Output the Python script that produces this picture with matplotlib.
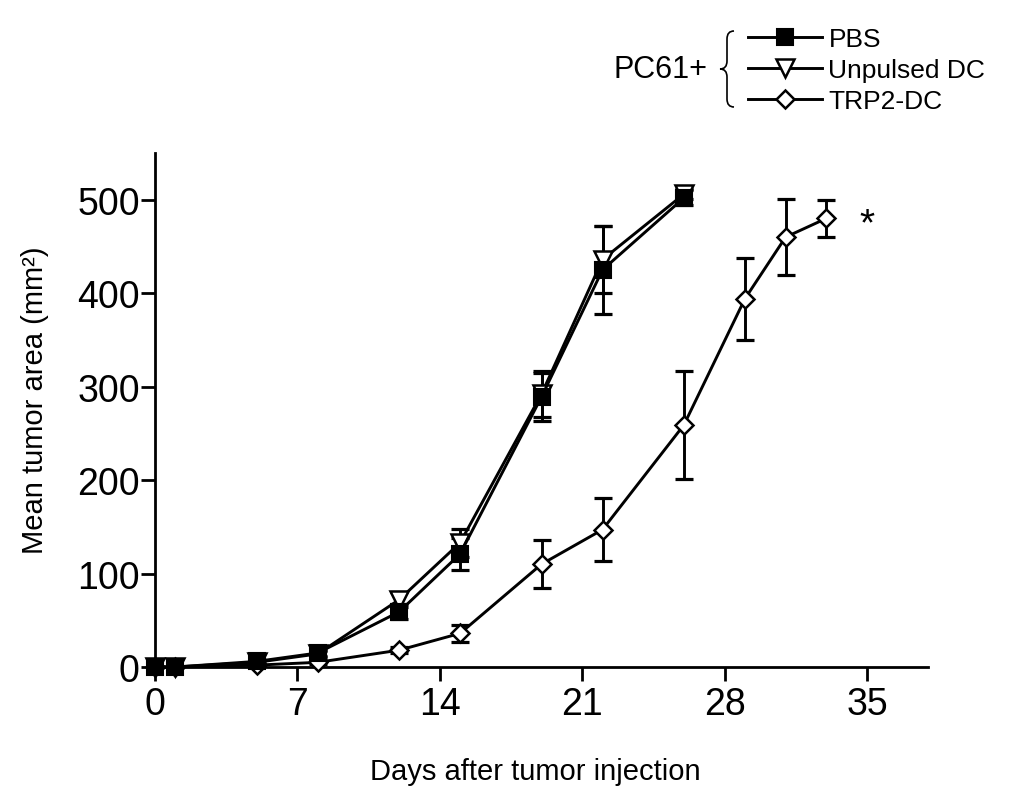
import matplotlib
matplotlib.use("Agg")
import matplotlib.pyplot as plt
from matplotlib.path import Path
from matplotlib.patches import PathPatch

plt.rcParams['font.family'] = ['Liberation Sans', 'DejaVu Sans']

# ---- data ----
days_ctrl = [0, 1, 5, 8, 12, 15, 19, 22, 26]
pbs = [0, 0, 6, 15, 59, 121, 289, 425, 502]
pbs_err = [0, 0, 2, 3, 8, 17, 26, 47, 8]
unpulsed = [0, 0, 5, 14, 72, 133, 292, 436, 506]
unpulsed_err = [0, 0, 2, 3, 8, 15, 25, 36, 5]

days_trp2 = [0, 1, 5, 8, 12, 15, 19, 22, 26, 29, 31, 33]
trp2 = [0, 0, 2, 5, 18, 36, 110, 147, 259, 394, 460, 480]
trp2_err = [0, 0, 1, 2, 3, 9, 26, 34, 58, 44, 41, 20]

series_labels = ["PBS", "Unpulsed DC", "TRP2-DC"]
xticks = [0, 7, 14, 21, 28, 35]
yticks = [0, 100, 200, 300, 400, 500]

W, H = 1011, 804
fig = plt.figure(figsize=(W / 100, H / 100), dpi=100)
ax = fig.add_axes([155 / W, 1 - 668 / H, (928 - 155) / W, (668 - 154) / H])

lw = 2.1
eb_kw = dict(fmt='none', ecolor='black', elinewidth=2.1, capsize=6.5, capthick=2.3,
             zorder=2, clip_on=False)
ax.errorbar(days_ctrl, unpulsed, yerr=unpulsed_err, **eb_kw)
ax.errorbar(days_ctrl, pbs, yerr=pbs_err, **eb_kw)
ax.errorbar(days_trp2, trp2, yerr=trp2_err, **eb_kw)

h_unp, = ax.plot(days_ctrl, unpulsed, color='black', lw=lw, marker='v', markersize=12.5,
                 markerfacecolor='white', markeredgecolor='black', markeredgewidth=1.8,
                 zorder=3, clip_on=False, label=series_labels[1])
h_pbs, = ax.plot(days_ctrl, pbs, color='black', lw=lw, marker='s', markersize=12,
                 markerfacecolor='black', markeredgecolor='black', markeredgewidth=1.5,
                 zorder=4, clip_on=False, label=series_labels[0])
h_trp, = ax.plot(days_trp2, trp2, color='black', lw=lw, marker='D', markersize=9.5,
                 markerfacecolor='white', markeredgecolor='black', markeredgewidth=1.8,
                 zorder=3, clip_on=False, label=series_labels[2])

ax.text(35, 474, "*", fontsize=28, ha='center', va='center')

ax.set_xlim(0, 38)
ax.set_ylim(0, 550)
ax.set_xticks(xticks)
ax.set_yticks(yticks)
for s in ['top', 'right']:
    ax.spines[s].set_visible(False)
for s in ['left', 'bottom']:
    ax.spines[s].set_linewidth(2.0)
ax.tick_params(direction='out', length=10, width=2.0, labelsize=27)
ax.tick_params(axis='y', pad=1)
ax.tick_params(axis='x', pad=4)

ax.set_xlabel("Days after tumor injection", fontsize=21)
ax.set_ylabel("Mean tumor area (mm²)", fontsize=21)
ax.xaxis.set_label_coords((535 - 155) / (928 - 155), -(772 - 668) / (668 - 154), transform=ax.transAxes)
ax.yaxis.set_label_coords(-(155 - 35) / (928 - 155), (668 - 400) / (668 - 154), transform=ax.transAxes)
ax.xaxis.label.set_va('center')
ax.yaxis.label.set_va('center')

# legend
leg = fig.legend(handles=[h_pbs, h_unp, h_trp], labels=series_labels,
                 loc='center left', bbox_to_anchor=(748 / W, 1 - 71 / H),
                 bbox_transform=fig.transFigure, frameon=False, fontsize=19,
                 handlelength=2.8, handletextpad=0.25, labelspacing=0.26,
                 borderpad=0, borderaxespad=0, numpoints=1)

fig.text(707 / W, 1 - 70 / H, "PC61+", fontsize=22, ha='right', va='center')

# brace
def P(x, y):
    return (x / W, 1 - y / H)

verts = [P(734, 32), P(727, 32), P(727, 40), P(727, 46),
         P(727, 62), P(727, 70), P(720, 70),
         P(727, 70), P(727, 78), P(727, 94),
         P(727, 100), P(727, 108), P(734, 108)]
codes = [Path.MOVETO, Path.CURVE3, Path.CURVE3, Path.LINETO,
         Path.LINETO, Path.CURVE3, Path.CURVE3,
         Path.CURVE3, Path.CURVE3, Path.LINETO,
         Path.LINETO, Path.CURVE3, Path.CURVE3]
brace = PathPatch(Path(verts, codes), transform=fig.transFigure, fill=False,
                  lw=1.2, edgecolor='black')
fig.add_artist(brace)

fig.savefig("out.png", dpi=100)
